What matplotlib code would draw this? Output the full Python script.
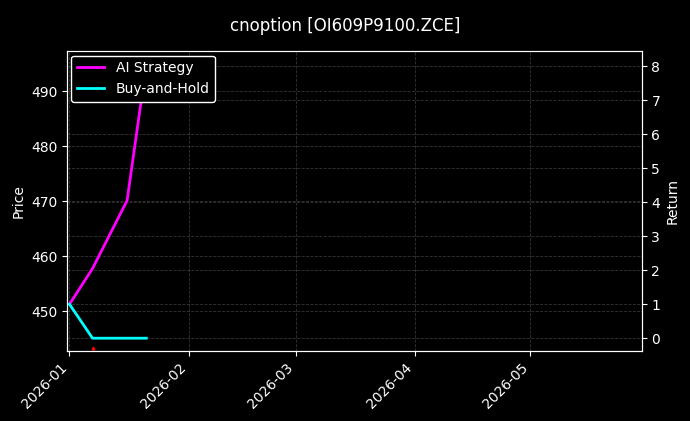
import pandas as pd
import matplotlib.pyplot as plt
import matplotlib.dates as mdates

plt.style.use('dark_background')

# Dane
ret_dates = pd.to_datetime(['2026-01-01', '2026-01-07', '2026-01-16', '2026-01-21'])
ai_strategy = [1.0, 2.05, 4.05, 8.05]
buy_hold_dates = pd.to_datetime(['2026-01-01', '2026-01-07', '2026-01-21'])
buy_hold = [1.0, 0.0, 0.0]
signal_dates = pd.to_datetime(['2026-01-07'])
signal_price = [443.2]

fig, ax = plt.subplots(figsize=(6.9, 4.21), dpi=100)
fig.patch.set_facecolor('black')
ax.set_facecolor('black')
fig.suptitle('cnoption [OI609P9100.ZCE]', fontsize=12, y=0.96)

ax.plot(signal_dates, signal_price, marker='^', color='red', markersize=2, linestyle='none')
ax.set_ylim(442.7, 497.3)
ax.set_ylabel('Price')
ax.grid(True, linestyle='--', color='gray', alpha=0.4, linewidth=0.6)

ax2 = ax.twinx()
ax2.plot(ret_dates, ai_strategy, color='magenta', linewidth=2, label='AI Strategy')
ax2.plot(buy_hold_dates, buy_hold, color='cyan', linewidth=2, label='Buy-and-Hold')
ax2.set_ylim(-0.38, 8.44)
ax2.set_ylabel('Return')
ax2.grid(True, linestyle='--', color='gray', alpha=0.4, linewidth=0.6)
leg = ax2.legend(loc='upper left', facecolor='black', edgecolor='white', framealpha=1,
                 borderaxespad=0.3)

ax.set_xlim(pd.Timestamp('2025-12-31 08:00'), pd.Timestamp('2026-05-30'))
ax.xaxis.set_major_locator(mdates.MonthLocator())
ax.xaxis.set_major_formatter(mdates.DateFormatter('%Y-%m'))
plt.setp(ax.get_xticklabels(), rotation=45, ha='right')

fig.subplots_adjust(left=0.097, right=0.93, top=0.878, bottom=0.166)
plt.savefig('out.png', dpi=100, facecolor='black')
